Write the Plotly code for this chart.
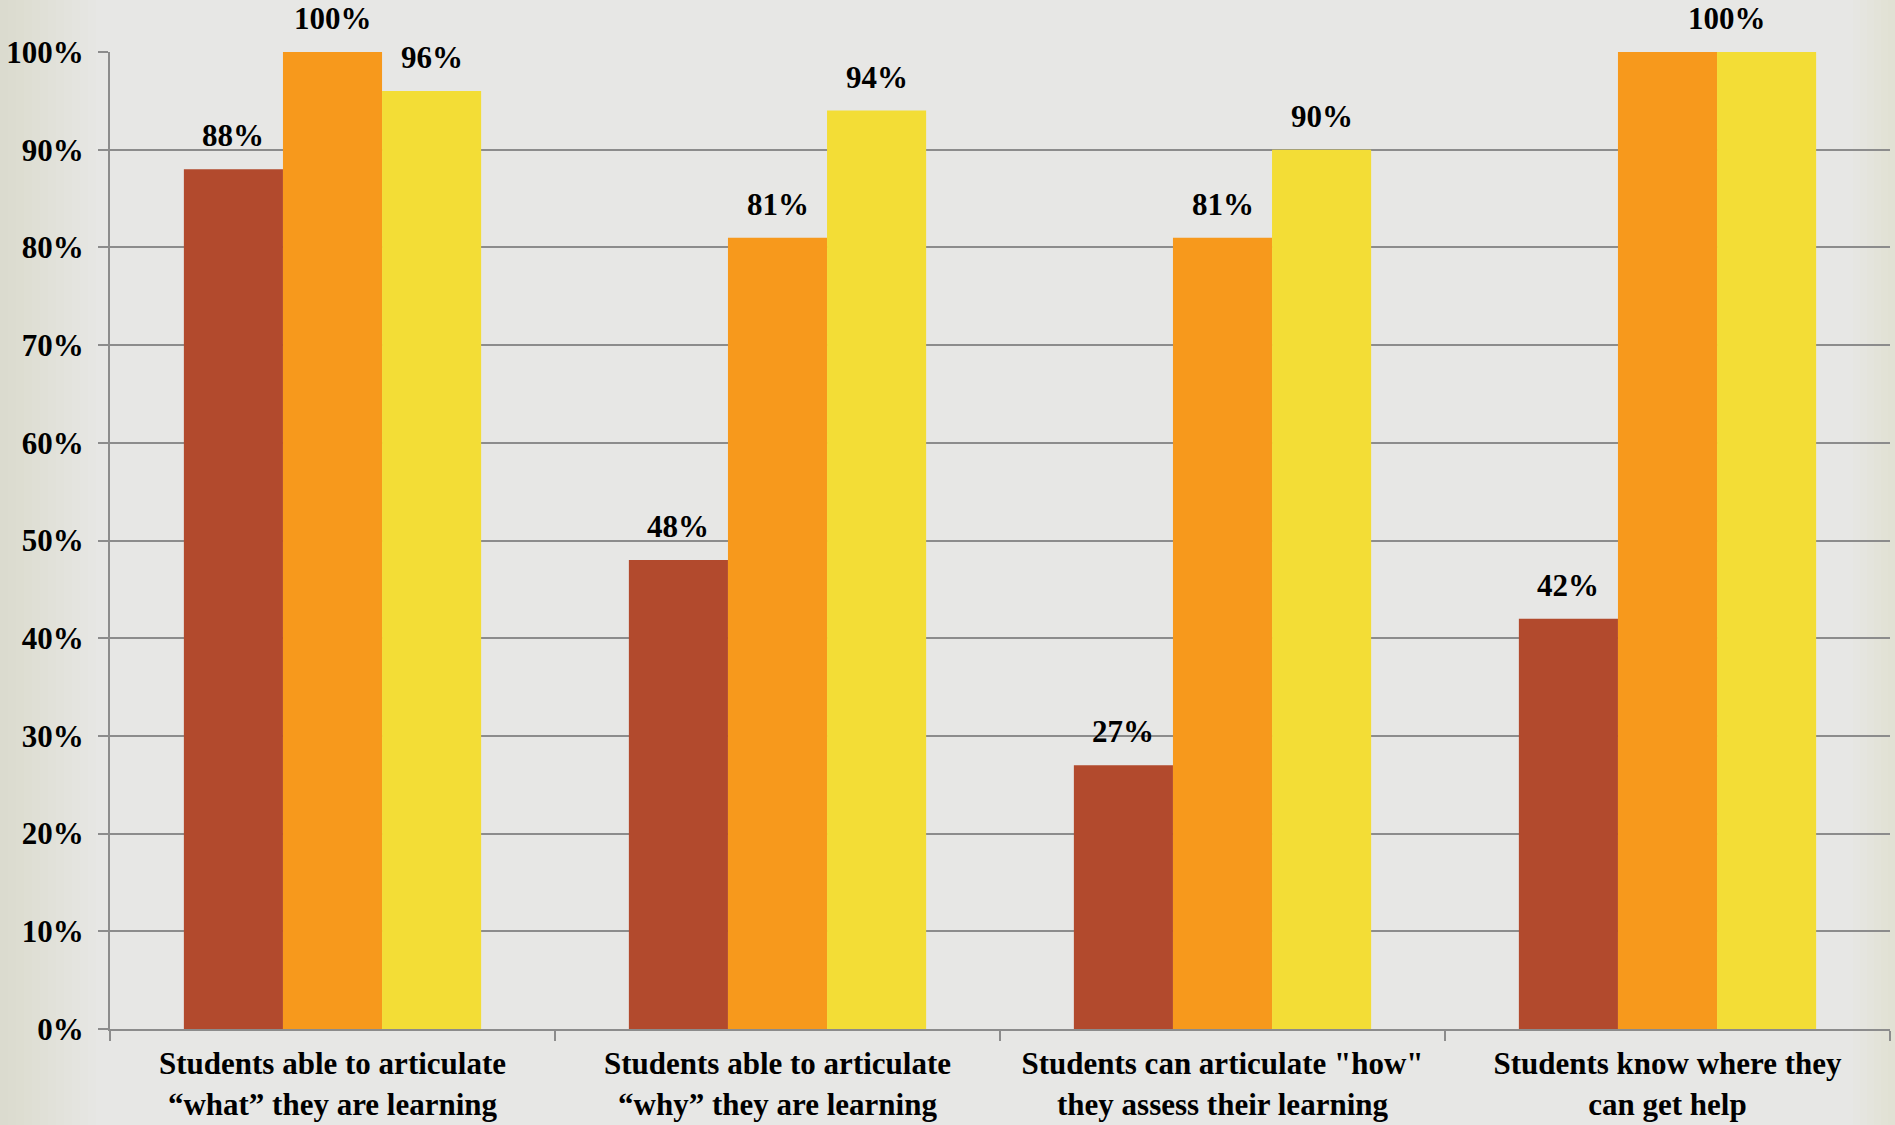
import plotly.graph_objects as go

# Survey results: share of students per statement, three cohorts
categories = [
    "Students able to articulate<br>\u201cwhat\u201d they are learning",
    "Students able to articulate<br>\u201cwhy\u201d they are learning",
    "Students can articulate \"how\"<br>they assess their learning",
    "Students know where they<br>can get help",
]
series_a = [88, 48, 27, 42]
series_b = [100, 81, 81, 100]
series_c = [96, 94, 90, 100]
y_ticks = [0, 10, 20, 30, 40, 50, 60, 70, 80, 90, 100]

W, H = 1895, 1125
M_L, M_R, M_T, M_B = 110, 5, 52, 96
BARGAP = 0.332
FONT = "Liberation Serif, Times New Roman, serif"

colors = ["#B24A2D", "#F7991C", "#F3DD36"]
all_series = [series_a, series_b, series_c]

fig = go.Figure()
for vals, col in zip(all_series, colors):
    fig.add_trace(go.Bar(
        x=categories, y=vals,
        marker=dict(color=col, line=dict(width=0)),
        showlegend=False, hoverinfo="skip",
    ))

# value labels above bars, positioned at each bar's centre
plot_w = W - M_L - M_R
bar_px = plot_w / len(categories) * (1 - BARGAP) / 3
annotations = []
for si, vals in enumerate(all_series):
    for ci, v in enumerate(vals):
        shift = (si - 1) * bar_px
        if ci == 3 and si == 1:
            continue  # shared label with the neighbouring bar of equal height
        if ci == 3 and si == 2:
            shift = 0.6 * bar_px
        annotations.append(dict(
            x=categories[ci], y=v, xref="x", yref="y",
            text=f"<b>{v}%</b>", showarrow=False,
            xanchor="center", yanchor="bottom", xshift=shift, yshift=14,
            font=dict(family=FONT, size=31, color="#000000"),
        ))

# soft warm shading at the page edges
shapes = []
px2paper = 1.0 / plot_w
for k in range(12):
    w = (k + 1) * 8
    shapes.append(dict(type="rect", xref="paper", yref="paper",
                       x0=-M_L * px2paper, x1=(-M_L + w) * px2paper,
                       y0=-2, y1=2, line=dict(width=0),
                       fillcolor="rgba(214,208,182,0.045)", layer="below"))
for k in range(6):
    w = (k + 1) * 7
    shapes.append(dict(type="rect", xref="paper", yref="paper",
                       x0=(plot_w + M_R - w) * px2paper, x1=(plot_w + M_R) * px2paper,
                       y0=-2, y1=2, line=dict(width=0),
                       fillcolor="rgba(214,208,182,0.05)", layer="below"))

fig.update_layout(
    width=W, height=H,
    margin=dict(l=M_L, r=M_R, t=M_T, b=M_B, pad=0, autoexpand=False),
    paper_bgcolor="#E7E7E5",
    plot_bgcolor="rgba(0,0,0,0)",
    barmode="group", bargap=BARGAP, bargroupgap=0,
    font=dict(family=FONT, size=30, color="#000000"),
    annotations=annotations,
    shapes=shapes,
)
fig.update_xaxes(
    automargin=False,
    showline=True, linecolor="#8C8C8C", linewidth=2,
    ticks="outside", tickson="boundaries", ticklen=10, tickwidth=2,
    tickcolor="#8C8C8C", showgrid=False,
    tickfont=dict(family=FONT, size=31, color="#000000", weight="bold"),
    ticklabelstandoff=6,
)
fig.update_yaxes(
    automargin=False,
    range=[0, 100], tickvals=y_ticks,
    ticktext=[f"{t}%" for t in y_ticks],
    showline=True, linecolor="#8C8C8C", linewidth=2,
    showgrid=True, gridcolor="#8C8C8C", gridwidth=2,
    zeroline=False,
    ticks="outside", ticklen=10, tickwidth=2, tickcolor="#8C8C8C",
    tickfont=dict(family=FONT, size=31, color="#000000", weight="bold"),
    ticklabelstandoff=8,
)

fig.write_html("out.html")
